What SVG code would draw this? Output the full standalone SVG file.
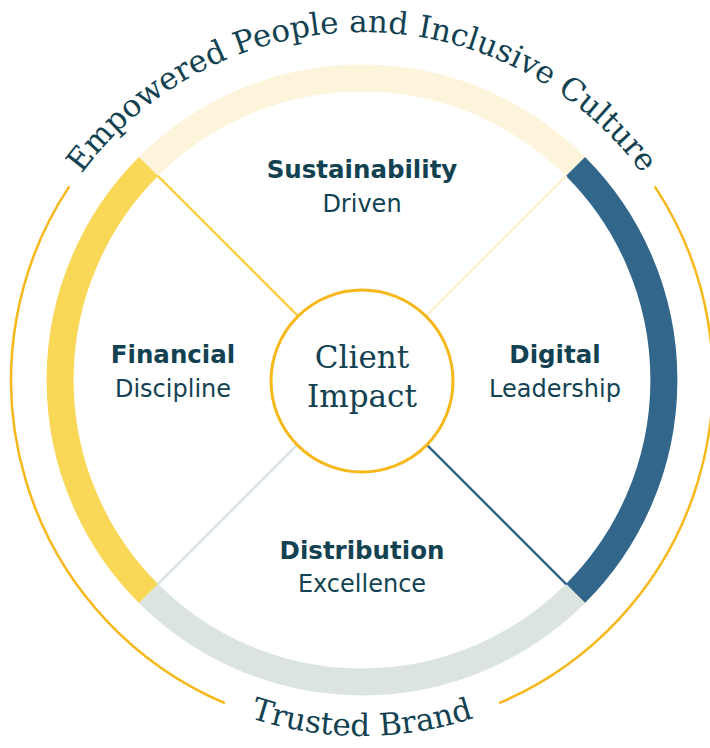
<svg xmlns="http://www.w3.org/2000/svg" width="710" height="748" viewBox="0 0 710 748">
  <style>
    .seg { fill: none; stroke-width: 27; }
    .spoke { stroke-width: 2.5; fill: none; }
    .outer { fill: none; stroke: #f6b81a; stroke-width: 2.5; }
    .serif { font-family: "DejaVu Serif", "Liberation Serif", serif; fill: #124252; }
    .lbl { font-family: "DejaVu Sans", "Liberation Sans", sans-serif; font-size: 24px; fill: #124252; text-anchor: middle; }
    .b { font-weight: bold; font-size: 24.5px; }
  </style>
  <defs>
    <path id="topArc" d="M 14 380 A 348 348 0 0 1 710 380"/>
    <path id="botArc" d="M 6 380 A 356 356 0 0 0 718 380"/>
  </defs>
  <rect width="710" height="748" fill="#ffffff"/>

  <g id="outer-arcs">
    <path class="outer" d="M 69.3 186.4 A 351 351 0 0 0 224.9 703.1"/>
    <path class="outer" d="M 654.7 186.4 A 351 351 0 0 1 499.1 703.1"/>
  </g>

  <g id="ring">
    <path id="seg-top" class="seg" stroke="#fdf4dc" d="M 148.5 166.5 A 302 302 0 0 1 575.5 166.5"/>
    <path id="seg-right" class="seg" stroke="#33668b" d="M 575.5 166.5 A 302 302 0 0 1 575.5 593.5"/>
    <path id="seg-bottom" class="seg" stroke="#dce4df" d="M 575.5 593.5 A 302 302 0 0 1 148.5 593.5"/>
    <path id="seg-left" class="seg" stroke="#f9d858" d="M 148.5 593.5 A 302 302 0 0 1 148.5 166.5"/>
  </g>

  <g id="connectors">
    <line class="spoke" stroke="#f7d04a" x1="157.6" y1="175.6" x2="297.6" y2="315.6"/>
    <line class="spoke" stroke="#fdf0d2" x1="566.4" y1="175.6" x2="426.4" y2="315.6"/>
    <line class="spoke" stroke="#dbe3df" x1="157.6" y1="584.4" x2="297.6" y2="444.4"/>
    <line class="spoke" stroke="#33668b" x1="566.4" y1="584.4" x2="426.4" y2="444.4"/>
  </g>

  <g id="client-impact">
    <circle cx="362" cy="381" r="91" fill="#ffffff" stroke="#f6b81a" stroke-width="3"/>
    <text class="serif" x="362" y="368" font-size="31" text-anchor="middle">Client</text>
    <text class="serif" x="362" y="407" font-size="31" text-anchor="middle">Impact</text>
  </g>

  <g id="sustainability">
    <text class="lbl b" x="362" y="178">Sustainability</text>
    <text class="lbl" x="362" y="212">Driven</text>
  </g>
  <g id="financial">
    <text class="lbl b" x="173" y="363">Financial</text>
    <text class="lbl" x="173" y="397">Discipline</text>
  </g>
  <g id="digital">
    <text class="lbl b" x="555" y="363">Digital</text>
    <text class="lbl" x="555" y="397">Leadership</text>
  </g>
  <g id="distribution">
    <text class="lbl b" x="362" y="559">Distribution</text>
    <text class="lbl" x="362" y="592">Excellence</text>
  </g>

  <g id="empowered">
    <text class="serif" font-size="31"><textPath href="#topArc" startOffset="50%" text-anchor="middle">Empowered People and Inclusive Culture</textPath></text>
  </g>
  <g id="trusted-brand">
    <text class="serif" font-size="31"><textPath href="#botArc" startOffset="50%" text-anchor="middle">Trusted Brand</textPath></text>
  </g>
</svg>
